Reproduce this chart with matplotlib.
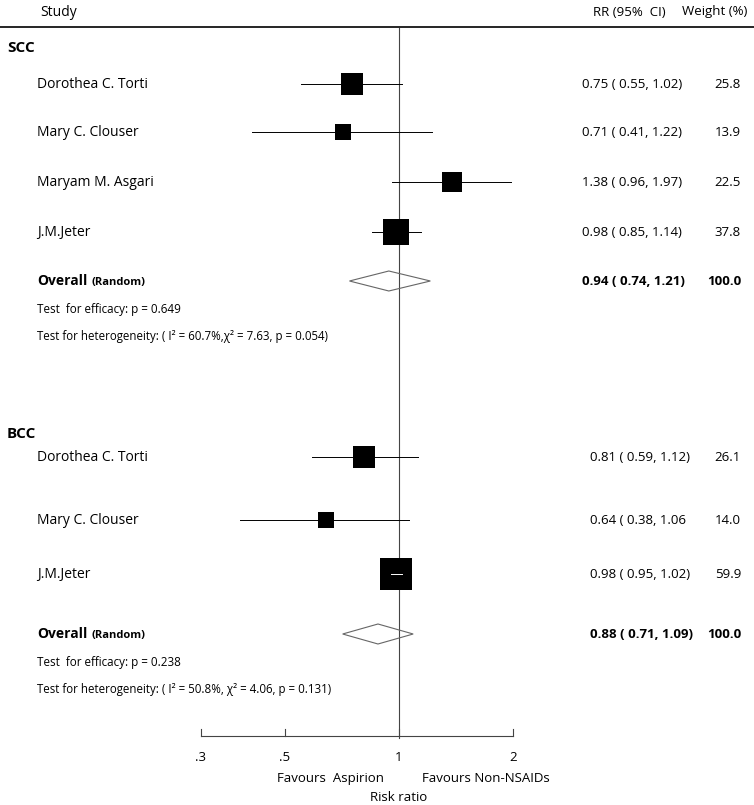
import numpy as np
import matplotlib
matplotlib.use("Agg")
import matplotlib.pyplot as plt
from matplotlib.patches import Polygon

plt.rcParams['font.family'] = ['Open Sans', 'DejaVu Sans']

# data
scc_names = ["Dorothea C. Torti", "Mary C. Clouser", "Maryam M. Asgari", "J.M.Jeter"]
scc_rr = [0.75, 0.71, 1.38, 0.98]
scc_lo = [0.55, 0.41, 0.96, 0.85]
scc_hi = [1.02, 1.22, 1.97, 1.14]
scc_w = [25.8, 13.9, 22.5, 37.8]
scc_overall = (0.94, 0.74, 1.21)
scc_eff = "Test  for efficacy: p = 0.649"
scc_het = "Test for heterogeneity: ( I² = 60.7%,χ² = 7.63, p = 0.054)"

bcc_names = ["Dorothea C. Torti", "Mary C. Clouser", "J.M.Jeter"]
bcc_rr = [0.81, 0.64, 0.98]
bcc_lo = [0.59, 0.38, 0.95]
bcc_hi = [1.12, 1.06, 1.02]
bcc_w = [26.1, 14.0, 59.9]
bcc_rr_text = ["0.81 ( 0.59, 1.12)", "0.64 ( 0.38, 1.06", "0.98 ( 0.95, 1.02)"]
bcc_overall = (0.88, 0.71, 1.09)
bcc_eff = "Test  for efficacy: p = 0.238"
bcc_het = "Test for heterogeneity: ( I² = 50.8%, χ² = 4.06, p = 0.131)"

ticks = [0.3, 0.5, 1, 2]
tick_labels = [".3", ".5", "1", "2"]

# layout (rows in pixel units from top)
W, H = 754, 805
scc_rows = [84, 132, 182, 232]
bcc_rows = [457, 520, 574]

fig = plt.figure(figsize=(W / 100, H / 100), dpi=100)
ax = fig.add_axes([0, 0, 1, 1])
ax.set_xscale('log')
ax.set_xlim(np.exp(-399 / 164.5), np.exp((W - 399) / 164.5))
ax.set_ylim(H, 0)
ax.axis('off')
tx = ax.get_yaxis_transform()


def px(x):
    return x / W


def draw_group(label, y_label, names, rr, lo, hi, w, rows, rr_text, overall, y_ov, eff, het, rr_x):
    ax.text(px(7), y_label, label, transform=tx, fontsize=11, fontweight='bold', va='center')
    for i, name in enumerate(names):
        y = rows[i]
        ax.text(px(37), y, name, transform=tx, fontsize=10, va='center')
        ax.plot([lo[i], hi[i]], [y, y], color='black', lw=0.7, zorder=2)
        side = 4.2 * np.sqrt(w[i])
        ax.plot(rr[i], y, marker='s', ms=side * 0.72, color='black', mec='black', mew=0, zorder=3)
        # CI entirely inside the box -> draw it in white
        x0 = ax.transData.transform((lo[i], y))[0]
        x1 = ax.transData.transform((hi[i], y))[0]
        if x1 - x0 < side * 0.9:
            ax.plot([lo[i], hi[i]], [y, y], color='white', lw=0.7, zorder=4)
        ax.text(px(rr_x), y, rr_text[i], transform=tx, fontsize=9.5, va='center')
        ax.text(px(741), y, f"{w[i]:.1f}", transform=tx, fontsize=9.5, va='center', ha='right')
    est, l, h = overall
    ax.text(px(37), y_ov, "Overall", transform=tx, fontsize=10, fontweight='bold', va='center')
    ax.text(px(92), y_ov + 1, "(Random)", transform=tx, fontsize=8, fontweight='bold', va='center')
    ax.add_patch(Polygon([(l, y_ov), (est, y_ov - 10), (h, y_ov), (est, y_ov + 10)],
                         closed=True, fill=False, ec='#666666', lw=0.8, zorder=3))
    ax.text(px(rr_x), y_ov, f"{est:.2f} ( {l:.2f}, {h:.2f})", transform=tx, fontsize=9.5,
            fontweight='bold', va='center')
    ax.text(px(741), y_ov, "100.0", transform=tx, fontsize=9.5, fontweight='bold', va='center', ha='right')
    ax.text(px(37), y_ov + 28, eff, transform=tx, fontsize=8.4, va='center')
    ax.text(px(37), y_ov + 55, het, transform=tx, fontsize=8.3, va='center')


# header
ax.text(px(40), 12, "Study", transform=tx, fontsize=10, va='center')
ax.text(px(629), 12, "RR (95%  CI)", transform=tx, fontsize=9.5, va='center', ha='center')
ax.text(px(715), 12, "Weight (%)", transform=tx, fontsize=9.5, va='center', ha='center')
ax.plot([0, 1], [27, 27], transform=tx, color='black', lw=1.2)

# null line
ax.plot([1, 1], [28, 738], color='#444444', lw=0.8, zorder=1)

scc_rr_text = [f"{r:.2f} ( {a:.2f}, {b:.2f})" for r, a, b in zip(scc_rr, scc_lo, scc_hi)]
draw_group("SCC", 48, scc_names, scc_rr, scc_lo, scc_hi, scc_w, scc_rows, scc_rr_text,
           scc_overall, 281, scc_eff, scc_het, 582)
draw_group("BCC", 434, bcc_names, bcc_rr, bcc_lo, bcc_hi, bcc_w, bcc_rows, bcc_rr_text,
           bcc_overall, 634, bcc_eff, bcc_het, 590)

# bottom axis
ax.plot([ticks[0], ticks[-1]], [736, 736], color='#444444', lw=0.8)
for t, lab in zip(ticks, tick_labels):
    ax.plot([t, t], [729, 736], color='#444444', lw=0.8)
    ax.text(t, 757, lab, fontsize=9.5, ha='center', va='center')
ax.text(0.66, 778, "Favours  Aspirion", fontsize=9.5, ha='center', va='center')
ax.text(1.70, 778, "Favours Non-NSAIDs", fontsize=9.5, ha='center', va='center')
ax.text(1, 797, "Risk ratio", fontsize=9.5, ha='center', va='center')

fig.savefig("out.png", dpi=100)
